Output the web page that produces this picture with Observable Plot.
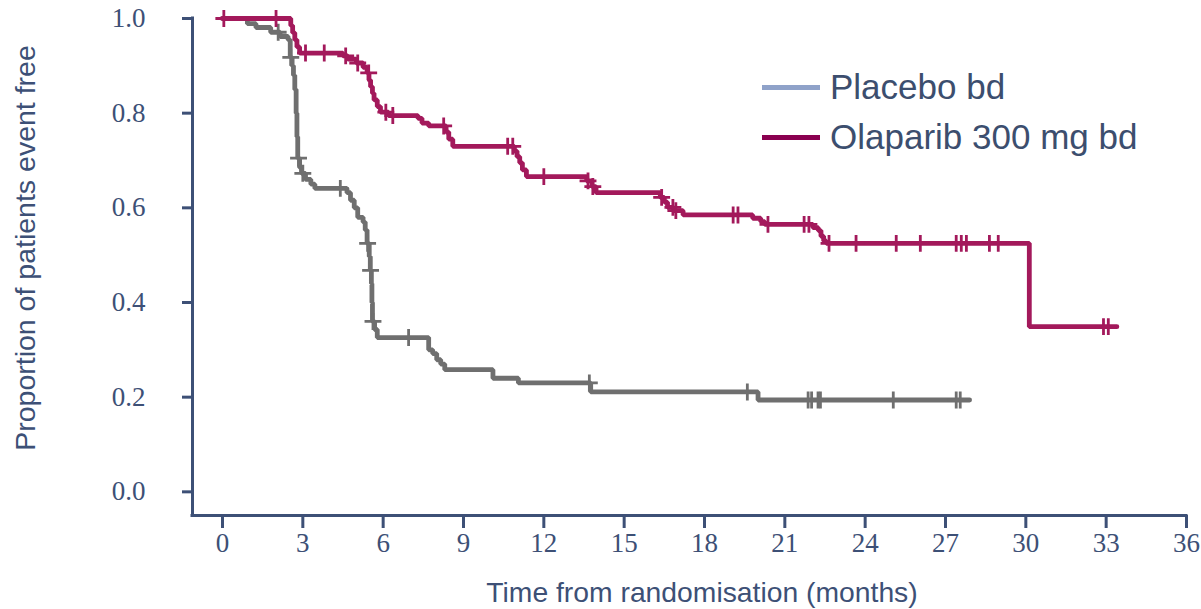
<!DOCTYPE html>
<html>
<head>
<meta charset="utf-8">
<script src="https://cdn.jsdelivr.net/npm/d3@7"></script>
<script src="https://cdn.jsdelivr.net/npm/@observablehq/plot@0.6"></script>
<style>
  html, body { margin: 0; padding: 0; background: #ffffff; }
  #wrap { position: relative; width: 1201px; height: 609px; overflow: hidden; }
  .ov { position: absolute; font-family: "Liberation Sans", Arial, sans-serif; color: #3d5076; white-space: nowrap; }
  .leg { display: flex; align-items: center; font-size: 35px; color: #3c4e6e; }
  .leg span.sw { display: inline-block; width: 58px; height: 5px; margin-right: 10px; }
</style>
</head>
<body>
<div id="wrap"></div>
<script>
// ---------------- data ----------------
const seriesNames = ["Placebo bd", "Olaparib 300 mg bd"];

// Placebo: step times (months) and survival proportion after each step
const placeboTime = [0, 0.93, 1.25, 1.8, 2.15, 2.45, 2.53, 2.6, 2.65, 2.7, 2.75, 2.78, 2.81, 2.88, 2.95, 3.1, 3.3, 3.45,
  4.65, 4.78, 4.92, 5.05, 5.25, 5.33, 5.4, 5.48, 5.52, 5.56, 5.58, 5.6, 5.68, 5.78,
  7.7, 7.85, 8.0, 8.15, 8.3, 10.1, 11.05, 13.75, 20.0, 27.9];
const placeboSurv = [1.0, 0.989, 0.981, 0.971, 0.962, 0.955, 0.918, 0.9, 0.88, 0.85, 0.8, 0.75, 0.705, 0.685, 0.673, 0.66, 0.65, 0.641,
  0.632, 0.616, 0.6, 0.58, 0.57, 0.553, 0.525, 0.497, 0.468, 0.44, 0.40, 0.36, 0.343, 0.326,
  0.30, 0.292, 0.279, 0.27, 0.258, 0.24, 0.23, 0.211, 0.194, 0.194];
const placeboCensor = [2.08, 2.55, 2.84, 3.0, 4.4, 5.42, 5.53, 5.62, 6.95, 13.7, 19.6, 21.87, 22.0, 22.24, 22.33, 25.05, 27.4, 27.55];

// Olaparib 300 mg bd
const olaparibTime = [0, 2.55, 2.62, 2.7, 2.78, 2.88, 4.5, 4.68, 5.0, 5.25, 5.4, 5.47, 5.53, 5.6, 5.66, 5.78, 5.9, 6.2,
  7.3, 7.45, 7.7, 8.35, 8.45, 8.6, 10.9, 11.0, 11.1, 11.2, 11.35, 13.6, 13.8, 13.95,
  16.35, 16.5, 16.62, 16.85, 17.2, 19.8, 20.1, 20.25, 22.05, 22.25, 22.35, 22.45, 22.55, 30.13, 33.4];
const olaparibSurv = [1.0, 0.985, 0.97, 0.955, 0.94, 0.927, 0.921, 0.914, 0.906, 0.897, 0.885, 0.87, 0.856, 0.842, 0.828, 0.814, 0.802, 0.795,
  0.789, 0.779, 0.773, 0.76, 0.745, 0.73, 0.72, 0.708, 0.695, 0.68, 0.666, 0.657, 0.645, 0.632,
  0.622, 0.612, 0.601, 0.594, 0.585, 0.578, 0.571, 0.565, 0.558, 0.552, 0.54, 0.53, 0.525, 0.349, 0.349];
const olaparibCensor = [0.05, 2.0, 3.1, 3.8, 4.6, 5.05, 5.46, 6.1, 6.36, 8.26, 10.65, 10.84, 12.0, 13.65, 13.83,
  16.4, 16.82, 16.93, 19.07, 19.25, 20.37, 21.72, 21.9, 22.65, 23.66, 25.16, 26.06, 27.4, 27.59, 27.78, 28.64, 28.97, 32.9, 33.08];

const xTicks = [0, 3, 6, 9, 12, 15, 18, 21, 24, 27, 30, 33, 36];
const yTicks = [0, 0.2, 0.4, 0.6, 0.8, 1.0];
const xTitle = "Time from randomisation (months)";
const yTitle = "Proportion of patients event free";

// ---------------- styling ----------------
const axisColor = "#3d5076";
const curveColors = ["#6f6f6f", "#a3195b"];
const legendColors = ["#8fa2c9", "#8a0050"];
const xMin = -1.12, xMax = 36, yMin = -0.05, yMax = 1.0;

// ---------------- build tables ----------------
function steps(T, S, name) { return T.map((t, i) => ({t, s: S[i], name})); }
function survAt(T, S, t) { let v = S[0]; for (let i = 0; i < T.length; i++) if (T[i] <= t) v = S[i]; return v; }
function censors(C, T, S, name) { return C.map(t => ({t, s: survAt(T, S, t), name})); }

const placeboLine = steps(placeboTime, placeboSurv, seriesNames[0]);
const olaparibLine = steps(olaparibTime, olaparibSurv, seriesNames[1]);
const placeboMarks = censors(placeboCensor, placeboTime, placeboSurv, seriesNames[0]);
const olaparibMarks = censors(olaparibCensor, olaparibTime, olaparibSurv, seriesNames[1]);

const chart = Plot.plot({
  width: 1201,
  height: 609,
  marginLeft: 192,
  marginRight: 15,
  marginTop: 18,
  marginBottom: 94,
  style: {background: "#ffffff", color: axisColor, fontFamily: "Liberation Serif, 'Times New Roman', serif"},
  x: {domain: [xMin, xMax]},
  y: {domain: [yMin, yMax]},
  marks: [
    Plot.line(placeboLine, {x: "t", y: "s", curve: "step-after", stroke: curveColors[0], strokeWidth: 4.8, strokeLinejoin: "miter"}),
    Plot.dot(placeboMarks, {x: "t", y: "s", symbol: "plus", r: 5.5, stroke: curveColors[0], strokeWidth: 2.8}),
    Plot.line(olaparibLine, {x: "t", y: "s", curve: "step-after", stroke: curveColors[1], strokeWidth: 4.8, strokeLinejoin: "miter"}),
    Plot.dot(olaparibMarks, {x: "t", y: "s", symbol: "plus", r: 5.5, stroke: curveColors[1], strokeWidth: 2.8}),
    Plot.ruleY([yMin], {stroke: axisColor, strokeWidth: 3, strokeLinecap: "square"}),
    Plot.ruleX([xMin], {stroke: axisColor, strokeWidth: 3, strokeLinecap: "square"}),
    Plot.axisX({ticks: xTicks, tickFormat: d => String(d), tickSize: 13, tickPadding: 4, stroke: axisColor, fill: axisColor,
      strokeWidth: 3, fontSize: 27, fontFamily: "Liberation Serif", label: null}),
    Plot.axisY({ticks: yTicks, tickFormat: d3.format(".1f"), tickSize: 10, tickPadding: 37, stroke: axisColor, fill: axisColor,
      strokeWidth: 3, fontSize: 27, fontFamily: "Liberation Serif", label: null})
  ]
});

const wrap = document.getElementById("wrap");
wrap.appendChild(chart);

// axis titles
const xt = document.createElement("div");
xt.className = "ov"; xt.textContent = xTitle;
xt.style.fontSize = "28.3px"; xt.style.left = "702px"; xt.style.top = "592px"; xt.style.transform = "translate(-50%, -50%)";
wrap.appendChild(xt);

const yt = document.createElement("div");
yt.className = "ov"; yt.textContent = yTitle;
yt.style.fontSize = "28.5px"; yt.style.left = "25px"; yt.style.top = "248px"; yt.style.transform = "translate(-50%, -50%) rotate(-90deg)";
wrap.appendChild(yt);

// legend
const legendTop = [87, 137];
seriesNames.forEach((name, i) => {
  const row = document.createElement("div");
  row.className = "ov leg";
  row.style.left = "762px"; row.style.top = legendTop[i] + "px"; row.style.transform = "translateY(-50%)";
  const sw = document.createElement("span"); sw.className = "sw"; sw.style.background = legendColors[i];
  const tx = document.createElement("span"); tx.textContent = name;
  row.appendChild(sw); row.appendChild(tx);
  wrap.appendChild(row);
});
</script>
</body>
</html>
